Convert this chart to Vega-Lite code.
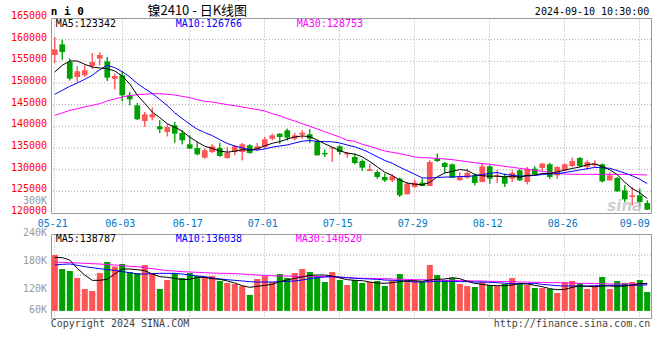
{
"$schema": "https://vega.github.io/schema/vega-lite/v6.json",
"autosize": "pad",
"padding": {"left": 10, "top": 4, "right": 10, "bottom": 0},
"background": "white",
"bounds": "flush",
"spacing": 21,
"config": {
  "font": "DejaVu Sans Mono",
  "view": {"stroke": "#999", "strokeWidth": 1},
  "axis": {"labelFont": "DejaVu Sans Mono", "labelFontSize": 10, "gridColor": "#aaa", "gridDash": [1, 2], "domain": false, "ticks": false, "title": null},
  "text": {"font": "DejaVu Sans Mono", "fontSize": 10}
},
"datasets": {"k": [
{"d":"05-21","o":156460,"h":160620,"l":154620,"c":157770,"v":195000,"m5":152540,"m10":147390,"m30":142540,"vm5":190000,"vm10":173600,"vm30":179300},
{"d":"05-22","o":158920,"h":160000,"l":155390,"c":157150,"v":165000,"m5":154080,"m10":148310,"m30":143080,"vm5":189300,"vm10":175000,"vm30":179300},
{"d":"05-23","o":154850,"h":155620,"l":150620,"c":151000,"v":160700,"m5":155080,"m10":149230,"m30":143690,"vm5":184300,"vm10":175700,"vm30":178600},
{"d":"05-24","o":151390,"h":153850,"l":150230,"c":152690,"v":145700,"m5":155080,"m10":150000,"m30":144080,"vm5":166400,"vm10":172900,"vm30":177900},
{"d":"05-27","o":151770,"h":154080,"l":151390,"c":152920,"v":122100,"m5":154310,"m10":150850,"m30":144460,"vm5":152100,"vm10":170000,"vm30":177100},
{"d":"05-28","o":153920,"h":156920,"l":153310,"c":154850,"v":117900,"m5":153690,"m10":151770,"m30":144850,"vm5":140700,"vm10":167900,"vm30":176400},
{"d":"05-29","o":155620,"h":157080,"l":154080,"c":156460,"v":156400,"m5":153460,"m10":153080,"m30":145230,"vm5":140700,"vm10":165700,"vm30":175700},
{"d":"05-30","o":155000,"h":156000,"l":150460,"c":151230,"v":180000,"m5":153310,"m10":154080,"m30":145850,"vm5":142900,"vm10":163600,"vm30":174300},
{"d":"05-31","o":151000,"h":152150,"l":148540,"c":151620,"v":170000,"m5":152770,"m10":153540,"m30":146310,"vm5":154300,"vm10":162100,"vm30":173600},
{"d":"06-03","o":151770,"h":152690,"l":145770,"c":147150,"v":175700,"m5":151600,"m10":152600,"m30":146770,"vm5":165000,"vm10":159300,"vm30":172100},
{"d":"06-04","o":147150,"h":147920,"l":144850,"c":146230,"v":158600,"m5":149800,"m10":151400,"m30":147080,"vm5":165000,"vm10":157100,"vm30":170700},
{"d":"06-05","o":144850,"h":145390,"l":141500,"c":141620,"v":156400,"m5":147200,"m10":149900,"m30":147310,"vm5":163600,"vm10":154300,"vm30":170000},
{"d":"06-06","o":141230,"h":143310,"l":139850,"c":142770,"v":173600,"m5":145300,"m10":148700,"m30":147390,"vm5":161400,"vm10":154300,"vm30":167900},
{"d":"06-07","o":142080,"h":144310,"l":141390,"c":142770,"v":156400,"m5":143300,"m10":147600,"m30":147540,"vm5":154300,"vm10":155000,"vm30":165700},
{"d":"06-11","o":140000,"h":141390,"l":138460,"c":139310,"v":122100,"m5":142000,"m10":146200,"m30":147540,"vm5":148600,"vm10":155700,"vm30":163600},
{"d":"06-12","o":138690,"h":140460,"l":137690,"c":139850,"v":141400,"m5":140600,"m10":144800,"m30":147390,"vm5":147100,"vm10":155700,"vm30":161400},
{"d":"06-13","o":140230,"h":141000,"l":136230,"c":138310,"v":156400,"m5":139800,"m10":143100,"m30":147230,"vm5":145000,"vm10":155700,"vm30":160700},
{"d":"06-14","o":138460,"h":139080,"l":135850,"c":136770,"v":145700,"m5":138900,"m10":141800,"m30":146920,"vm5":142100,"vm10":154300,"vm30":159300},
{"d":"06-17","o":135850,"h":137920,"l":134800,"c":134850,"v":156400,"m5":137500,"m10":140500,"m30":146620,"vm5":142900,"vm10":152100,"vm30":158600},
{"d":"06-18","o":135000,"h":136390,"l":133310,"c":133540,"v":150000,"m5":136400,"m10":139340,"m30":146150,"vm5":147100,"vm10":150000,"vm30":157900},
{"d":"06-19","o":132770,"h":134850,"l":132540,"c":134460,"v":147900,"m5":135400,"m10":138550,"m30":145770,"vm5":147100,"vm10":148600,"vm30":157100},
{"d":"06-20","o":134080,"h":135850,"l":133850,"c":135390,"v":150000,"m5":134900,"m10":137860,"m30":145620,"vm5":144300,"vm10":145700,"vm30":156400},
{"d":"06-21","o":135000,"h":136230,"l":133000,"c":133150,"v":139300,"m5":134300,"m10":136920,"m30":145310,"vm5":142900,"vm10":143600,"vm30":155700},
{"d":"06-24","o":132690,"h":135230,"l":132540,"c":133920,"v":135000,"m5":134050,"m10":136050,"m30":145000,"vm5":139300,"vm10":142100,"vm30":155700},
{"d":"06-25","o":134080,"h":135620,"l":133310,"c":135390,"v":132900,"m5":134250,"m10":135470,"m30":144770,"vm5":135000,"vm10":140700,"vm30":155000},
{"d":"06-26","o":134080,"h":136150,"l":132150,"c":135850,"v":128600,"m5":134600,"m10":135000,"m30":144460,"vm5":129300,"vm10":139300,"vm30":154300},
{"d":"06-27","o":135620,"h":135850,"l":133690,"c":133850,"v":109300,"m5":134500,"m10":134630,"m30":144150,"vm5":125700,"vm10":137900,"vm30":152900},
{"d":"06-28","o":134620,"h":136150,"l":134460,"c":135390,"v":143600,"m5":134860,"m10":134520,"m30":143850,"vm5":127900,"vm10":137100,"vm30":152100},
{"d":"07-01","o":135230,"h":137540,"l":134850,"c":137000,"v":150000,"m5":135500,"m10":134780,"m30":143540,"vm5":130000,"vm10":137100,"vm30":151400},
{"d":"07-02","o":137150,"h":138310,"l":136770,"c":137920,"v":137100,"m5":136080,"m10":135190,"m30":142920,"vm5":132100,"vm10":137100,"vm30":150700},
{"d":"07-03","o":138310,"h":138310,"l":136000,"c":137540,"v":154300,"m5":136480,"m10":135460,"m30":142460,"vm5":137900,"vm10":137900,"vm30":150000},
{"d":"07-04","o":139080,"h":139460,"l":136770,"c":137390,"v":145700,"m5":137060,"m10":135710,"m30":141770,"vm5":141400,"vm10":138600,"vm30":150000},
{"d":"07-05","o":137150,"h":138460,"l":136770,"c":137920,"v":156400,"m5":137550,"m10":136150,"m30":141230,"vm5":145000,"vm10":139300,"vm30":149300},
{"d":"07-08","o":138080,"h":139080,"l":137150,"c":138540,"v":165000,"m5":137780,"m10":136570,"m30":140620,"vm5":147900,"vm10":141400,"vm30":149300},
{"d":"07-09","o":138150,"h":139310,"l":136150,"c":137150,"v":158600,"m5":137620,"m10":136730,"m30":140000,"vm5":151400,"vm10":144300,"vm30":148600},
{"d":"07-10","o":136540,"h":136770,"l":133300,"c":133310,"v":150000,"m5":136820,"m10":136530,"m30":139390,"vm5":152100,"vm10":146400,"vm30":148600},
{"d":"07-11","o":133850,"h":134620,"l":132920,"c":133540,"v":137100,"m5":135970,"m10":136480,"m30":138770,"vm5":152100,"vm10":147900,"vm30":148600},
{"d":"07-12","o":134850,"h":135100,"l":131770,"c":135080,"v":158600,"m5":135200,"m10":136420,"m30":138150,"vm5":150000,"vm10":148600,"vm30":147900},
{"d":"07-15","o":135390,"h":135620,"l":133460,"c":134080,"v":141400,"m5":134350,"m10":136160,"m30":137540,"vm5":145700,"vm10":147900,"vm30":147100},
{"d":"07-16","o":133540,"h":134080,"l":132770,"c":133850,"v":130700,"m5":133830,"m10":135690,"m30":136770,"vm5":142100,"vm10":146400,"vm30":146400},
{"d":"07-17","o":132920,"h":133690,"l":131230,"c":131540,"v":141400,"m5":133580,"m10":135270,"m30":136540,"vm5":140700,"vm10":145000,"vm30":145700},
{"d":"07-18","o":132000,"h":132310,"l":129690,"c":130460,"v":135000,"m5":132960,"m10":134660,"m30":135850,"vm5":140000,"vm10":144300,"vm30":145000},
{"d":"07-19","o":129690,"h":131230,"l":129690,"c":130080,"v":137100,"m5":131880,"m10":133880,"m30":135390,"vm5":137100,"vm10":143600,"vm30":145000},
{"d":"07-22","o":129460,"h":129850,"l":127920,"c":128310,"v":139300,"m5":130650,"m10":132980,"m30":134850,"vm5":135000,"vm10":142900,"vm30":144300},
{"d":"07-23","o":128310,"h":129080,"l":127150,"c":127540,"v":128600,"m5":129400,"m10":132120,"m30":134310,"vm5":134300,"vm10":141400,"vm30":144300},
{"d":"07-24","o":127540,"h":128920,"l":127150,"c":128460,"v":139300,"m5":128640,"m10":131490,"m30":134000,"vm5":135700,"vm10":140700,"vm30":143600},
{"d":"07-25","o":127920,"h":128150,"l":123690,"c":124080,"v":154300,"m5":127610,"m10":130560,"m30":133690,"vm5":137900,"vm10":140000,"vm30":142900},
{"d":"07-26","o":124310,"h":127150,"l":124300,"c":126770,"v":141400,"m5":126900,"m10":129760,"m30":133310,"vm5":140000,"vm10":138600,"vm30":142900},
{"d":"07-29","o":126000,"h":127690,"l":125850,"c":127000,"v":139300,"m5":126650,"m10":128940,"m30":132920,"vm5":140000,"vm10":137100,"vm30":142100},
{"d":"07-30","o":127000,"h":127920,"l":126200,"c":126230,"v":137100,"m5":126520,"m10":128100,"m30":132770,"vm5":138600,"vm10":137100,"vm30":142100},
{"d":"07-31","o":126230,"h":132150,"l":126200,"c":131770,"v":173600,"m5":127050,"m10":128070,"m30":132690,"vm5":141400,"vm10":137900,"vm30":141400},
{"d":"08-01","o":132540,"h":133690,"l":131770,"c":132000,"v":152100,"m5":128340,"m10":128190,"m30":132620,"vm5":142900,"vm10":138600,"vm30":141400},
{"d":"08-02","o":131540,"h":131770,"l":129230,"c":130620,"v":141400,"m5":129220,"m10":128290,"m30":132460,"vm5":143600,"vm10":138600,"vm30":140700},
{"d":"08-05","o":131230,"h":131390,"l":128100,"c":128150,"v":145700,"m5":129610,"m10":128320,"m30":132310,"vm5":146400,"vm10":138600,"vm30":140700},
{"d":"08-06","o":127540,"h":129460,"l":127500,"c":128460,"v":132900,"m5":130020,"m10":128410,"m30":132080,"vm5":144300,"vm10":137900,"vm30":140000},
{"d":"08-07","o":128150,"h":130230,"l":127920,"c":129230,"v":128600,"m5":129850,"m10":128450,"m30":131850,"vm5":138600,"vm10":137900,"vm30":140000},
{"d":"08-08","o":128690,"h":129080,"l":126390,"c":126920,"v":126400,"m5":128880,"m10":128590,"m30":131620,"vm5":134300,"vm10":137100,"vm30":139300},
{"d":"08-09","o":127150,"h":131540,"l":127100,"c":130770,"v":137100,"m5":128590,"m10":128870,"m30":131390,"vm5":132100,"vm10":137100,"vm30":139300},
{"d":"08-12","o":130770,"h":131000,"l":126770,"c":127920,"v":130700,"m5":128490,"m10":129140,"m30":131230,"vm5":130000,"vm10":136400,"vm30":138600},
{"d":"08-13","o":128310,"h":129850,"l":126920,"c":128690,"v":128600,"m5":128510,"m10":129340,"m30":131000,"vm5":129300,"vm10":135700,"vm30":138600},
{"d":"08-14","o":128460,"h":129080,"l":126000,"c":126770,"v":132900,"m5":128340,"m10":128900,"m30":130770,"vm5":129300,"vm10":134300,"vm30":137900},
{"d":"08-15","o":127920,"h":129850,"l":127150,"c":129230,"v":145700,"m5":128490,"m10":128720,"m30":130540,"vm5":130700,"vm10":133600,"vm30":137900},
{"d":"08-16","o":129850,"h":130080,"l":127390,"c":127540,"v":132900,"m5":128250,"m10":128490,"m30":130310,"vm5":134300,"vm10":132900,"vm30":137100},
{"d":"08-19","o":127150,"h":130620,"l":126620,"c":130230,"v":130700,"m5":128700,"m10":128560,"m30":130080,"vm5":132900,"vm10":133600,"vm30":137100},
{"d":"08-20","o":130230,"h":130770,"l":128700,"c":128920,"v":124300,"m5":128730,"m10":128660,"m30":129850,"vm5":130000,"vm10":134300,"vm30":136400},
{"d":"08-21","o":130390,"h":131540,"l":129690,"c":131390,"v":124300,"m5":129150,"m10":128880,"m30":129620,"vm5":127100,"vm10":132100,"vm30":136400},
{"d":"08-22","o":131230,"h":131540,"l":127850,"c":128310,"v":122100,"m5":129100,"m10":129030,"m30":129390,"vm5":122900,"vm10":130700,"vm30":135700},
{"d":"08-23","o":128690,"h":130770,"l":127850,"c":130620,"v":113600,"m5":129480,"m10":129060,"m30":129150,"vm5":120700,"vm10":129300,"vm30":135700},
{"d":"08-26","o":129850,"h":131390,"l":129690,"c":131230,"v":137100,"m5":129890,"m10":129340,"m30":129000,"vm5":121400,"vm10":128600,"vm30":135000},
{"d":"08-27","o":130850,"h":132770,"l":130620,"c":132000,"v":139300,"m5":130280,"m10":129620,"m30":128920,"vm5":125700,"vm10":128600,"vm30":135000},
{"d":"08-28","o":132690,"h":132920,"l":130620,"c":130850,"v":135000,"m5":130600,"m10":129940,"m30":128920,"vm5":128600,"vm10":128600,"vm30":134300},
{"d":"08-29","o":130620,"h":132150,"l":130000,"c":131770,"v":122100,"m5":131150,"m10":130220,"m30":128920,"vm5":127900,"vm10":128600,"vm30":134300},
{"d":"08-30","o":131000,"h":132150,"l":130460,"c":131390,"v":126400,"m5":131340,"m10":130530,"m30":128920,"vm5":127100,"vm10":129300,"vm30":133600},
{"d":"09-02","o":131230,"h":131390,"l":127080,"c":127310,"v":147900,"m5":130700,"m10":130420,"m30":128920,"vm5":128600,"vm10":129300,"vm30":133600},
{"d":"09-03","o":127540,"h":129460,"l":127500,"c":128690,"v":122100,"m5":130000,"m10":130330,"m30":128920,"vm5":128600,"vm10":130000,"vm30":132900},
{"d":"09-04","o":128080,"h":128310,"l":124850,"c":125000,"v":139300,"m5":128830,"m10":129780,"m30":128920,"vm5":127900,"vm10":130000,"vm30":132900},
{"d":"09-05","o":125230,"h":126390,"l":122540,"c":123150,"v":135000,"m5":127110,"m10":129220,"m30":128920,"vm5":128600,"vm10":130000,"vm30":132900},
{"d":"09-06","o":123690,"h":126000,"l":121770,"c":124080,"v":137100,"m5":125650,"m10":128580,"m30":128900,"vm5":130700,"vm10":130000,"vm30":132900},
{"d":"09-09","o":124080,"h":125620,"l":121390,"c":122540,"v":141400,"m5":124690,"m10":127800,"m30":128850,"vm5":133600,"vm10":130500,"vm30":132900},
{"d":"09-10","o":122310,"h":122920,"l":120700,"c":120770,"v":115700,"m5":123340,"m10":126770,"m30":128750,"vm5":134300,"vm10":131000,"vm30":132900}
]},
"vconcat": [
{
  "width": 600, "height": 195,
  "data": {"name": "k"},
  "layer": [
    {"mark": {"type": "rule", "strokeWidth": 1},
     "encoding": {
       "x": {"field": "d", "type": "ordinal", "scale": {"type": "band", "paddingInner": 0, "paddingOuter": 0},
         "axis": {"values": ["05-21","06-03","06-17","07-01","07-15","07-29","08-12","08-26","09-09"], "bandPosition": 0.5, "grid": true, "labelAngle": 0, "labelColor": "#0078c8", "labelPadding": 5,
           "labelOffset": {"condition": {"test": "datum.value == '09-09'", "value": -5}, "value": -2}}},
       "y": {"field": "l", "type": "quantitative", "scale": {"domain": [120000, 165000], "zero": false, "nice": false},
         "axis": {"values": [120000,165000], "grid": false, "labels": false}},
       "y2": {"field": "h"},
       "color": {"condition": {"test": "datum.c >= datum.o", "value": "#ff5555"}, "value": "#00a000"}}},
    {"data": {"values": [{}]}, "mark": {"type": "rule", "strokeWidth": 1, "color": "#aaaaaa", "strokeDash": [1, 2]}, "encoding": {"y": {"datum": 125000, "type": "quantitative"}}},
    {"data": {"values": [{}]}, "mark": {"type": "rule", "strokeWidth": 1, "color": "#aaaaaa", "strokeDash": [1, 2]}, "encoding": {"y": {"datum": 130000, "type": "quantitative"}}},
    {"data": {"values": [{}]}, "mark": {"type": "rule", "strokeWidth": 1, "color": "#aaaaaa", "strokeDash": [1, 2]}, "encoding": {"y": {"datum": 135000, "type": "quantitative"}}},
    {"data": {"values": [{}]}, "mark": {"type": "rule", "strokeWidth": 1, "color": "#aaaaaa", "strokeDash": [1, 2]}, "encoding": {"y": {"datum": 140000, "type": "quantitative"}}},
    {"data": {"values": [{}]}, "mark": {"type": "rule", "strokeWidth": 1, "color": "#aaaaaa", "strokeDash": [1, 2]}, "encoding": {"y": {"datum": 145000, "type": "quantitative"}}},
    {"data": {"values": [{}]}, "mark": {"type": "rule", "strokeWidth": 1, "color": "#aaaaaa", "strokeDash": [1, 2]}, "encoding": {"y": {"datum": 150000, "type": "quantitative"}}},
    {"data": {"values": [{}]}, "mark": {"type": "rule", "strokeWidth": 1, "color": "#aaaaaa", "strokeDash": [1, 2]}, "encoding": {"y": {"datum": 155000, "type": "quantitative"}}},
    {"data": {"values": [{}]}, "mark": {"type": "rule", "strokeWidth": 1, "color": "#aaaaaa", "strokeDash": [1, 2]}, "encoding": {"y": {"datum": 160000, "type": "quantitative"}}},
    {"mark": {"type": "rule", "strokeWidth": 1},
     "encoding": {
       "x": {"field": "d", "type": "ordinal"},
       "y": {"field": "l", "type": "quantitative"},
       "y2": {"field": "h"},
       "color": {"condition": {"test": "datum.c >= datum.o", "value": "#ff5555"}, "value": "#00a000"}}},
    {"mark": {"type": "bar", "width": {"band": 0.76}},
     "encoding": {
       "x": {"field": "d", "type": "ordinal"},
       "y": {"field": "o", "type": "quantitative"},
       "y2": {"field": "c"},
       "color": {"condition": {"test": "datum.c >= datum.o", "value": "#ff5555"}, "value": "#00a000"}}},
    {"mark": {"type": "line", "strokeWidth": 1, "color": "#ff00ff"},
     "encoding": {"x": {"field": "d", "type": "ordinal"}, "y": {"field": "m30", "type": "quantitative"}}},
    {"mark": {"type": "line", "strokeWidth": 1, "color": "#0000ff"},
     "encoding": {"x": {"field": "d", "type": "ordinal"}, "y": {"field": "m10", "type": "quantitative"}}},
    {"mark": {"type": "line", "strokeWidth": 1, "color": "#000000"},
     "encoding": {"x": {"field": "d", "type": "ordinal"}, "y": {"field": "m5", "type": "quantitative"}}},
    {"data": {"values": [{}]}, "mark": {"type": "text", "align": "right", "baseline": "middle", "dx": -7.75, "dy": -2, "color": "#ff0000"}, "encoding": {"x": {"datum": "05-21", "type": "ordinal"}, "y": {"datum": 165000, "type": "quantitative"}, "text": {"value": "165000"}}},
    {"data": {"values": [{}]}, "mark": {"type": "text", "align": "right", "baseline": "middle", "dx": -7.75, "dy": -2, "color": "#ff0000"}, "encoding": {"x": {"datum": "05-21", "type": "ordinal"}, "y": {"datum": 160000, "type": "quantitative"}, "text": {"value": "160000"}}},
    {"data": {"values": [{}]}, "mark": {"type": "text", "align": "right", "baseline": "middle", "dx": -7.75, "dy": -2, "color": "#ff0000"}, "encoding": {"x": {"datum": "05-21", "type": "ordinal"}, "y": {"datum": 155000, "type": "quantitative"}, "text": {"value": "155000"}}},
    {"data": {"values": [{}]}, "mark": {"type": "text", "align": "right", "baseline": "middle", "dx": -7.75, "dy": -2, "color": "#ff0000"}, "encoding": {"x": {"datum": "05-21", "type": "ordinal"}, "y": {"datum": 150000, "type": "quantitative"}, "text": {"value": "150000"}}},
    {"data": {"values": [{}]}, "mark": {"type": "text", "align": "right", "baseline": "middle", "dx": -7.75, "dy": -2, "color": "#ff0000"}, "encoding": {"x": {"datum": "05-21", "type": "ordinal"}, "y": {"datum": 145000, "type": "quantitative"}, "text": {"value": "145000"}}},
    {"data": {"values": [{}]}, "mark": {"type": "text", "align": "right", "baseline": "middle", "dx": -7.75, "dy": -2, "color": "#ff0000"}, "encoding": {"x": {"datum": "05-21", "type": "ordinal"}, "y": {"datum": 140000, "type": "quantitative"}, "text": {"value": "140000"}}},
    {"data": {"values": [{}]}, "mark": {"type": "text", "align": "right", "baseline": "middle", "dx": -7.75, "dy": -2, "color": "#ff0000"}, "encoding": {"x": {"datum": "05-21", "type": "ordinal"}, "y": {"datum": 135000, "type": "quantitative"}, "text": {"value": "135000"}}},
    {"data": {"values": [{}]}, "mark": {"type": "text", "align": "right", "baseline": "middle", "dx": -7.75, "dy": -2, "color": "#ff0000"}, "encoding": {"x": {"datum": "05-21", "type": "ordinal"}, "y": {"datum": 130000, "type": "quantitative"}, "text": {"value": "130000"}}},
    {"data": {"values": [{}]}, "mark": {"type": "text", "align": "right", "baseline": "middle", "dx": -7.75, "dy": -2, "color": "#ff0000"}, "encoding": {"x": {"datum": "05-21", "type": "ordinal"}, "y": {"datum": 125000, "type": "quantitative"}, "text": {"value": "125000"}}},
    {"data": {"values": [{}]}, "mark": {"type": "text", "align": "right", "baseline": "middle", "dx": -7.75, "dy": -2, "color": "#ff0000"}, "encoding": {"x": {"datum": "05-21", "type": "ordinal"}, "y": {"datum": 120000, "type": "quantitative"}, "text": {"value": "120000"}}},
    {"data": {"values": [{}]}, "mark": {"type": "text", "align": "right", "baseline": "middle", "dx": -7.75, "color": "#999999"}, "encoding": {"x": {"datum": "05-21", "type": "ordinal"}, "y": {"datum": 122800, "type": "quantitative"}, "text": {"value": "300K"}}},
    {"data": {"values": [{}]}, "mark": {"type": "text", "align": "left", "baseline": "middle", "dx": 1, "color": "#000000"},
     "encoding": {"x": {"datum": "05-21", "type": "ordinal"}, "y": {"datum": 163700, "type": "quantitative"}, "text": {"value": "MA5:123342"}}},
    {"data": {"values": [{}]}, "mark": {"type": "text", "align": "left", "baseline": "middle", "dx": 1, "color": "#0000ff"},
     "encoding": {"x": {"datum": "06-13", "type": "ordinal"}, "y": {"datum": 163700, "type": "quantitative"}, "text": {"value": "MA10:126766"}}},
    {"data": {"values": [{}]}, "mark": {"type": "text", "align": "left", "baseline": "middle", "dx": 2, "color": "#ff00ff"},
     "encoding": {"x": {"datum": "07-05", "type": "ordinal"}, "y": {"datum": 163700, "type": "quantitative"}, "text": {"value": "MA30:128753"}}},
    {"data": {"values": [{}]}, "mark": {"type": "text", "align": "left", "baseline": "middle", "dx": -4, "fontSize": 11, "fontWeight": "bold", "color": "#000000"},
     "encoding": {"x": {"datum": "05-21", "type": "ordinal"}, "y": {"datum": 166500, "type": "quantitative"}, "text": {"value": "n i 0"}}},
    {"data": {"values": [{}]}, "mark": {"type": "text", "align": "center", "baseline": "middle", "font": "Noto Sans CJK SC", "fontSize": 13, "color": "#000000"},
     "encoding": {"x": {"datum": "06-18", "type": "ordinal"}, "y": {"datum": 166700, "type": "quantitative"}, "text": {"value": "镍2410  -  日K线图"}}},
    {"data": {"values": [{}]}, "mark": {"type": "text", "align": "right", "baseline": "middle", "dx": 2, "color": "#000000"},
     "encoding": {"x": {"datum": "09-10", "type": "ordinal"}, "y": {"datum": 166500, "type": "quantitative"}, "text": {"value": "2024-09-10 10:30:00"}}},
    {"data": {"values": [{}]}, "mark": {"type": "text", "align": "center", "baseline": "middle", "font": "DejaVu Sans", "fontSize": 15, "fontWeight": "bold", "fontStyle": "italic", "color": "#bbbbbb", "opacity": 0.7},
     "encoding": {"x": {"datum": "09-05", "type": "ordinal"}, "y": {"datum": 121600, "type": "quantitative"}, "text": {"value": "sina"}}}
  ]
},
{
  "width": 600, "height": 84,
  "data": {"name": "k"},
  "layer": [
    {"mark": {"type": "bar", "width": {"band": 0.76}},
     "encoding": {
       "x": {"field": "d", "type": "ordinal", "scale": {"type": "band", "paddingInner": 0, "paddingOuter": 0},
         "axis": {"values": ["05-21","06-03","06-17","07-01","07-15","07-29","08-12","08-26","09-09"], "bandPosition": 0.5, "grid": true, "labels": false}},
       "y": {"field": "v", "type": "quantitative", "scale": {"domain": [60000, 240000], "zero": false, "nice": false},
         "axis": {"values": [60000, 240000], "grid": false, "labels": false}},
       "y2": {"datum": 75600},
       "color": {"condition": {"test": "datum.c >= datum.o", "value": "#ff5555"}, "value": "#00a000"}}},
    {"data": {"values": [{}]}, "mark": {"type": "rule", "strokeWidth": 1, "color": "#aaaaaa", "strokeDash": [1, 2]},
     "encoding": {"y": {"datum": 109000, "type": "quantitative"}}},
    {"data": {"values": [{}]}, "mark": {"type": "rule", "strokeWidth": 1, "color": "#aaaaaa", "strokeDash": [1, 2]},
     "encoding": {"y": {"datum": 152000, "type": "quantitative"}}},
    {"data": {"values": [{}]}, "mark": {"type": "rule", "strokeWidth": 1, "color": "#aaaaaa", "strokeDash": [1, 2]},
     "encoding": {"y": {"datum": 195000, "type": "quantitative"}}},
    {"mark": {"type": "bar", "width": {"band": 0.76}},
     "encoding": {
       "x": {"field": "d", "type": "ordinal"},
       "y": {"field": "v", "type": "quantitative"},
       "y2": {"datum": 75600},
       "color": {"condition": {"test": "datum.c >= datum.o", "value": "#ff5555"}, "value": "#00a000"}}},
    {"mark": {"type": "line", "strokeWidth": 1, "color": "#ff00ff"},
     "encoding": {"x": {"field": "d", "type": "ordinal"}, "y": {"field": "vm30", "type": "quantitative"}}},
    {"mark": {"type": "line", "strokeWidth": 1, "color": "#0000ff"},
     "encoding": {"x": {"field": "d", "type": "ordinal"}, "y": {"field": "vm10", "type": "quantitative"}}},
    {"mark": {"type": "line", "strokeWidth": 1, "color": "#000000"},
     "encoding": {"x": {"field": "d", "type": "ordinal"}, "y": {"field": "vm5", "type": "quantitative"}}},
    {"data": {"values": [{}]}, "mark": {"type": "text", "align": "right", "baseline": "middle", "dx": -7.75, "dy": -1, "color": "#999999"}, "encoding": {"x": {"datum": "05-21", "type": "ordinal"}, "y": {"datum": 240000, "type": "quantitative"}, "text": {"value": "240K"}}},
    {"data": {"values": [{}]}, "mark": {"type": "text", "align": "right", "baseline": "middle", "dx": -7.75, "dy": -1, "color": "#999999"}, "encoding": {"x": {"datum": "05-21", "type": "ordinal"}, "y": {"datum": 180000, "type": "quantitative"}, "text": {"value": "180K"}}},
    {"data": {"values": [{}]}, "mark": {"type": "text", "align": "right", "baseline": "middle", "dx": -7.75, "dy": -1, "color": "#999999"}, "encoding": {"x": {"datum": "05-21", "type": "ordinal"}, "y": {"datum": 120000, "type": "quantitative"}, "text": {"value": "120K"}}},
    {"data": {"values": [{}]}, "mark": {"type": "text", "align": "right", "baseline": "middle", "dx": -7.75, "dy": -8, "color": "#999999"}, "encoding": {"x": {"datum": "05-21", "type": "ordinal"}, "y": {"datum": 60000, "type": "quantitative"}, "text": {"value": "60K"}}},
    {"data": {"values": [{}]}, "mark": {"type": "text", "align": "left", "baseline": "middle", "dx": 1, "color": "#000000"},
     "encoding": {"x": {"datum": "05-21", "type": "ordinal"}, "y": {"datum": 229300, "type": "quantitative"}, "text": {"value": "MA5:138787"}}},
    {"data": {"values": [{}]}, "mark": {"type": "text", "align": "left", "baseline": "middle", "dx": 1, "color": "#0000ff"},
     "encoding": {"x": {"datum": "06-13", "type": "ordinal"}, "y": {"datum": 229300, "type": "quantitative"}, "text": {"value": "MA10:136038"}}},
    {"data": {"values": [{}]}, "mark": {"type": "text", "align": "left", "baseline": "middle", "dx": 1, "color": "#ff00ff"},
     "encoding": {"x": {"datum": "07-05", "type": "ordinal"}, "y": {"datum": 229300, "type": "quantitative"}, "text": {"value": "MA30:140520"}}},
    {"data": {"values": [{}]}, "mark": {"type": "text", "align": "left", "baseline": "middle", "dx": -4, "color": "#444444"},
     "encoding": {"x": {"datum": "05-21", "type": "ordinal"}, "y": {"datum": 47100, "type": "quantitative"}, "text": {"value": "Copyright 2024 SINA.COM"}}},
    {"data": {"values": [{}]}, "mark": {"type": "text", "align": "right", "baseline": "middle", "dx": 3, "color": "#444444"},
     "encoding": {"x": {"datum": "09-10", "type": "ordinal"}, "y": {"datum": 47100, "type": "quantitative"}, "text": {"value": "http://finance.sina.com.cn"}}}
  ]
}
]
}
